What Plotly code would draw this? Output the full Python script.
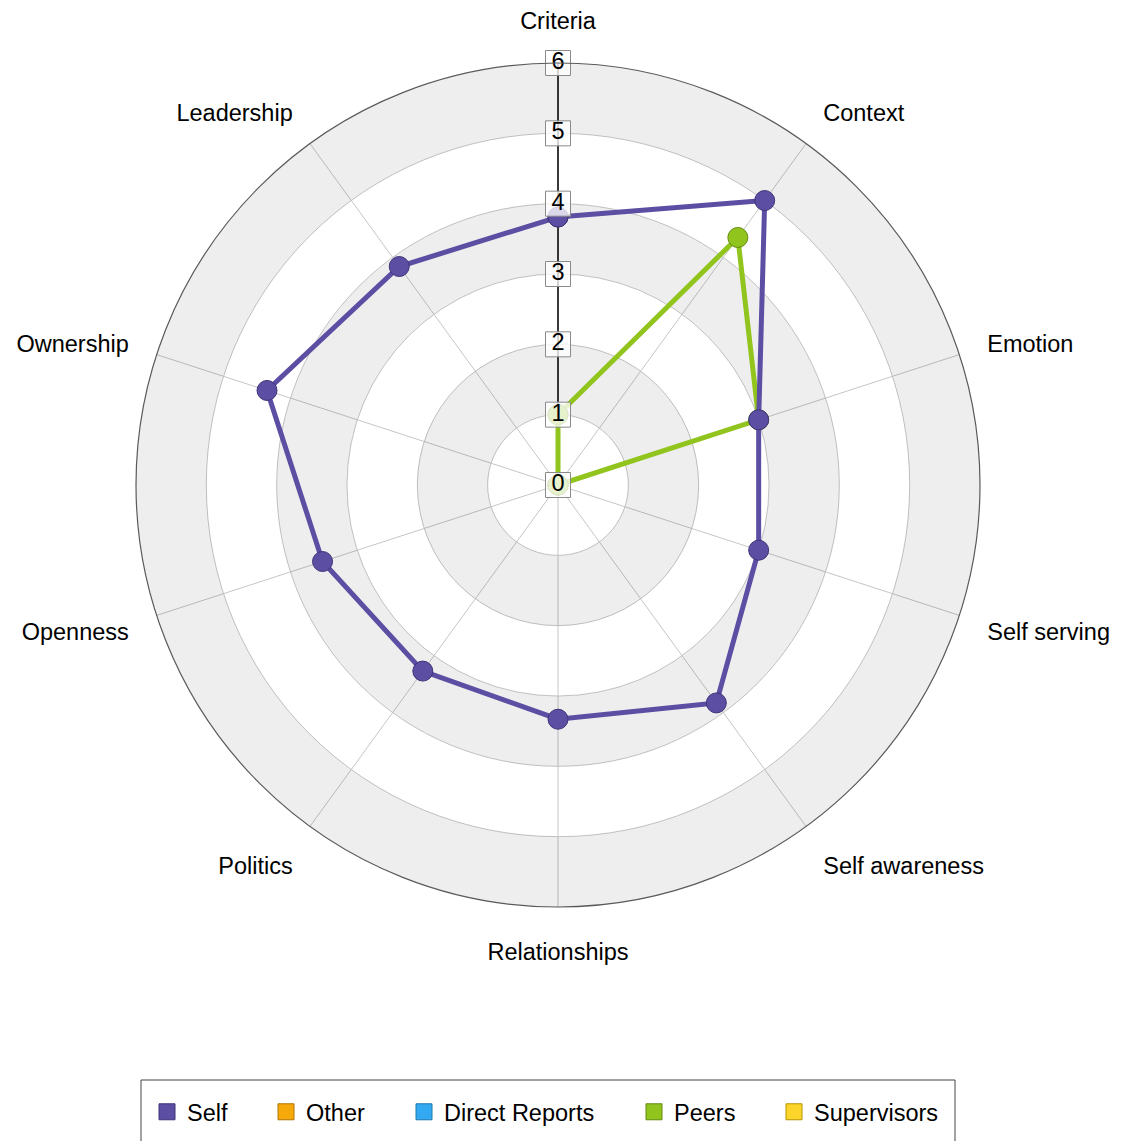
import plotly.graph_objects as go

categories = ["Criteria", "Context", "Emotion", "Self serving", "Self awareness",
              "Relationships", "Politics", "Openness", "Ownership", "Leadership"]
self_values = [3.81, 5.0, 3.0, 3.0, 3.83, 3.33, 3.27, 3.52, 4.35, 3.84]
peers_values = [1.0, 4.35, 3.0, 0, 0, 0, 0, 0, 0, 0]
radial_ticks = [0, 1, 2, 3, 4, 5, 6]
radial_tick_labels = ["0", "1", "2", "3", "4", "5", "6"]
legend_series = ["Self", "Other", "Direct Reports", "Peers", "Supervisors"]

colors = {
    "Self": "#5b4ea3",
    "Other": "#f6a90a",
    "Direct Reports": "#33a9f1",
    "Peers": "#92c41e",
    "Supervisors": "#fcd52a",
}
edge = {
    "Self": "#3e3478",
    "Other": "#b07600",
    "Direct Reports": "#1d79b0",
    "Peers": "#628a0e",
    "Supervisors": "#b79400",
}
legend_widths = {"Self": 74, "Other": 93, "Direct Reports": 185, "Peers": 95, "Supervisors": 130}

FONT = "Liberation Sans, Arial, sans-serif"
FS = 23.5
fig = go.Figure()

# alternating shaded rings (every other band between radial ticks)
gray_bases = [t for t in radial_ticks[:-1] if t % 2 == 1]
band_theta, band_base, band_r = [], [], []
for b in gray_bases:
    band_theta += categories
    band_base += [b] * len(categories)
    band_r += [1] * len(categories)
fig.add_trace(go.Barpolar(
    theta=band_theta, r=band_r, base=band_base,
    marker=dict(color="rgba(0,0,0,0.068)", line=dict(width=0)),
    showlegend=False, hoverinfo="skip",
))


def closed(vals):
    return list(vals) + [vals[0]], categories + [categories[0]]


for name, vals in [("Peers", peers_values), ("Self", self_values)]:
    r, th = closed(vals)
    fig.add_trace(go.Scatterpolar(
        r=r, theta=th, mode="lines+markers", name=name,
        line=dict(color=colors[name], width=5),
        marker=dict(size=20, color=colors[name], line=dict(color=edge[name], width=1)),
        showlegend=False,
    ))

# radial tick labels in boxes along the Criteria axis
fig.add_trace(go.Scatterpolar(
    r=radial_ticks, theta=[categories[0]] * len(radial_ticks),
    mode="markers+text", text=radial_tick_labels, textposition="middle center",
    textfont=dict(family=FONT, size=FS, color="#000"),
    marker=dict(symbol="square", size=25, color="rgba(255,255,255,0.78)",
                line=dict(color="#8a8a8a", width=1)),
    showlegend=False, hoverinfo="skip",
))

# legend entries
for name in legend_series:
    fig.add_trace(go.Scatterpolar(
        r=[None], theta=[categories[0]], mode="markers", name=name,
        marker=dict(symbol="square", size=16, color=colors[name],
                    line=dict(color=edge[name], width=1)),
        legendwidth=legend_widths[name],
    ))

W, H = 1125, 1141
OFF = 8  # page body margin
cx, cy, rad = 558 - OFF, 485 - OFF, 422
fig.update_layout(
    width=W, height=H,
    margin=dict(l=0, r=0, t=0, b=0),
    paper_bgcolor="white",
    font=dict(family=FONT, size=FS, color="#000"),
    polar=dict(
        domain=dict(x=[(cx - rad) / W, (cx + rad) / W],
                    y=[1 - (cy + rad) / H, 1 - (cy - rad) / H]),
        bgcolor="white",
        bargap=0,
        angularaxis=dict(
            direction="clockwise", rotation=90,
            showline=True, linecolor="#5a5a5a", linewidth=1.2,
            gridcolor="#c6c6c6", gridwidth=1,
            ticks="outside", ticklen=24, tickcolor="rgba(0,0,0,0)",
            tickfont=dict(family=FONT, size=FS, color="#000"),
            layer="above traces",
        ),
        radialaxis=dict(
            range=[0, 6], tickvals=radial_ticks, showticklabels=False,
            ticks="", angle=90, showline=True, linecolor="#000", linewidth=1.5,
            gridcolor="#c6c6c6", gridwidth=1,
            layer="below traces",
        ),
    ),
    legend=dict(
        orientation="h", x=(147 - OFF) / W, xanchor="left",
        y=1 - (1112 - OFF) / H, yanchor="middle",
        font=dict(family=FONT, size=FS, color="#000"),
        borderwidth=0, bgcolor="rgba(0,0,0,0)",
    ),
    shapes=[dict(type="rect", xref="paper", yref="paper",
                 x0=(141 - OFF) / W, x1=(955 - OFF) / W, y0=-0.02, y1=1 - (1080 - OFF) / H,
                 line=dict(color="#444", width=1))],
)

fig.write_html("out.html")
